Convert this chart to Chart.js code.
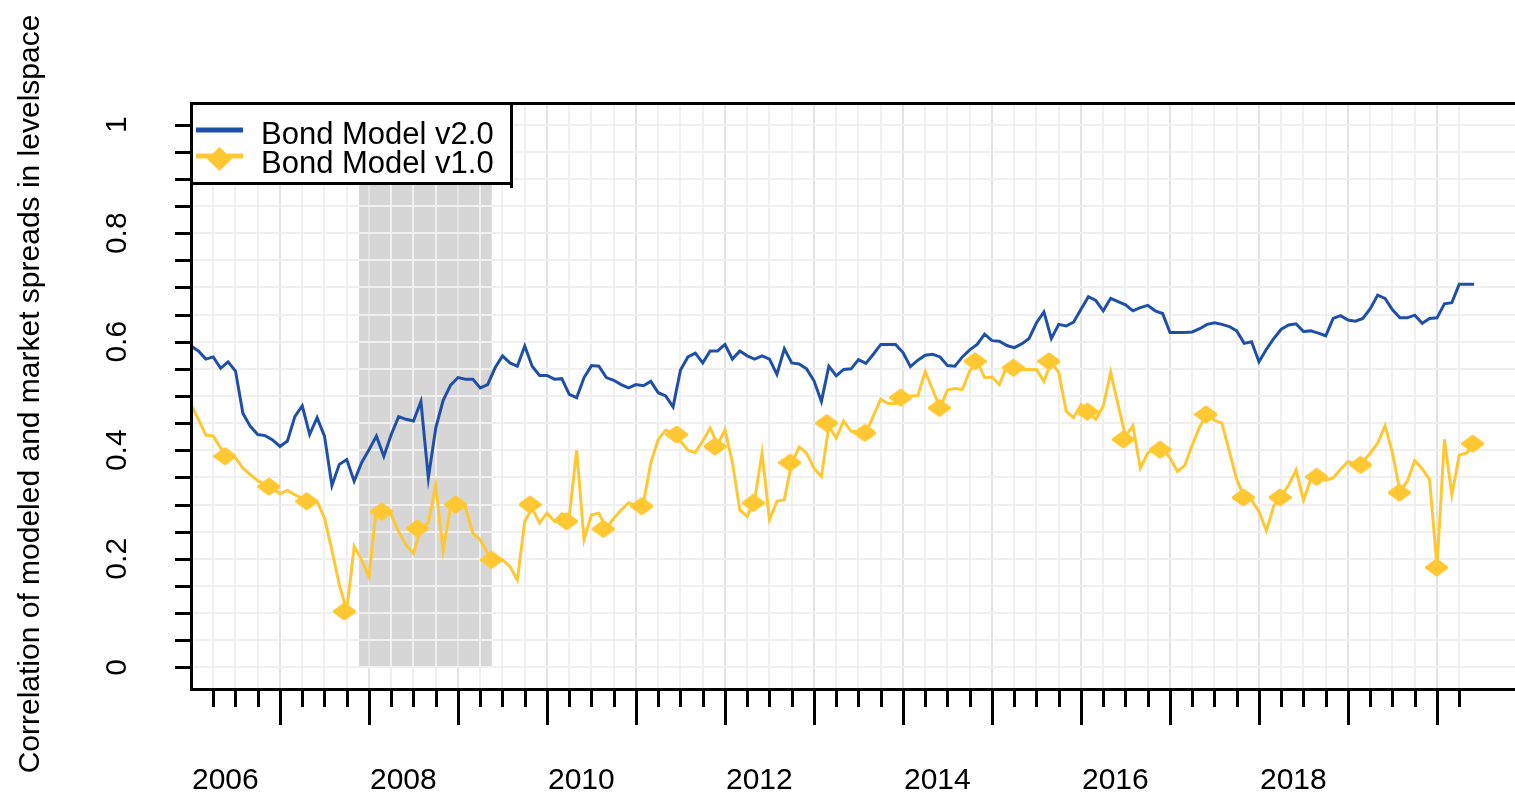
<!DOCTYPE html>
<html><head><meta charset="utf-8">
<script src="https://cdn.jsdelivr.net/npm/chart.js@4.4.1/dist/chart.umd.min.js"></script>
<style>html,body{margin:0;padding:0;background:#fff;}canvas{display:block;}</style>
</head><body>
<canvas id="c" width="1515" height="794"></canvas>
<script>
// ---------------- data ----------------
const seriesNames = ['Bond Model v2.0', 'Bond Model v1.0'];
const startYear = 2006.0;          // first monthly observation
const monthsPerYear = 12;

const v2Values = [
0.592,0.583,0.568,0.572,0.551,0.563,0.546,0.468,0.444,0.429,0.427,0.419,
0.407,0.417,0.462,0.482,0.429,0.460,0.426,0.335,0.374,0.383,0.343,0.377,
0.401,0.426,0.389,0.429,0.462,0.457,0.454,0.490,0.349,0.441,0.492,0.520,
0.534,0.531,0.531,0.515,0.521,0.552,0.574,0.561,0.555,0.592,0.555,0.538,
0.538,0.531,0.532,0.503,0.497,0.534,0.556,0.555,0.534,0.529,0.521,0.515,
0.521,0.519,0.527,0.506,0.500,0.480,0.548,0.572,0.579,0.561,0.583,0.583,
0.595,0.568,0.583,0.574,0.568,0.574,0.568,0.540,0.587,0.561,0.559,0.550,
0.528,0.490,0.555,0.537,0.549,0.550,0.567,0.560,0.577,0.595,0.595,0.595,
0.580,0.554,0.566,0.575,0.577,0.572,0.556,0.555,0.572,0.585,0.595,0.614,
0.602,0.601,0.593,0.589,0.596,0.606,0.635,0.655,0.606,0.632,0.629,0.636,
0.660,0.683,0.676,0.657,0.680,0.674,0.668,0.657,0.663,0.667,0.657,0.652,
0.617,0.617,0.617,0.618,0.624,0.632,0.635,0.632,0.628,0.620,0.597,0.600,
0.563,0.586,0.606,0.623,0.631,0.633,0.619,0.620,0.616,0.611,0.643,0.648,
0.640,0.638,0.643,0.661,0.686,0.680,0.659,0.644,0.644,0.649,0.634,0.643,
0.644,0.670,0.672,0.706,0.706,0.706
];
const v1Values = [
0.484,0.457,0.428,0.426,0.404,0.390,0.386,0.367,0.355,0.344,0.337,0.330,
0.320,0.326,0.318,0.312,0.309,0.306,0.275,0.216,0.152,0.105,0.223,0.198,
0.167,0.293,0.287,0.281,0.250,0.226,0.210,0.255,0.266,0.335,0.215,0.297,
0.300,0.295,0.247,0.235,0.210,0.198,0.198,0.186,0.161,0.269,0.293,0.266,
0.284,0.269,0.283,0.278,0.400,0.235,0.281,0.284,0.255,0.275,0.290,0.303,
0.297,0.303,0.377,0.420,0.437,0.432,0.417,0.400,0.396,0.417,0.441,0.410,
0.438,0.377,0.290,0.278,0.309,0.395,0.272,0.306,0.309,0.377,0.406,0.395,
0.367,0.352,0.444,0.423,0.454,0.435,0.434,0.432,0.463,0.494,0.486,0.486,
0.497,0.500,0.501,0.545,0.512,0.478,0.511,0.514,0.512,0.546,0.564,0.534,
0.535,0.521,0.555,0.552,0.549,0.549,0.549,0.527,0.563,0.543,0.472,0.460,
0.484,0.469,0.457,0.481,0.544,0.484,0.426,0.445,0.367,0.395,0.404,0.402,
0.386,0.361,0.372,0.410,0.443,0.468,0.455,0.450,0.398,0.346,0.314,0.308,
0.287,0.252,0.298,0.315,0.336,0.364,0.308,0.347,0.351,0.345,0.349,0.365,
0.379,0.375,0.378,0.395,0.413,0.445,0.395,0.324,0.343,0.381,0.366,0.346,
0.186,0.420,0.318,0.391,0.395,0.412
];
// v1.0 marker points (date in decimal years, value)
const markerDates = [
2006.382,2006.876,2007.300,2007.723,2008.143,2008.543,2008.974,2009.379,
2009.809,2010.221,2010.633,2011.064,2011.457,2011.888,2012.318,2012.730,
2013.143,2013.573,2013.974,2014.408,2014.809,2015.240,2015.640,2016.071,
2016.476,2016.888,2017.404,2017.824,2018.236,2018.648,2019.142,2019.577,
2019.996,2020.401
];
const markerValues = [
0.389,0.333,0.306,0.103,0.287,0.256,0.300,0.198,
0.300,0.269,0.255,0.297,0.429,0.407,0.303,0.377,
0.450,0.432,0.497,0.478,0.564,0.552,0.564,0.471,
0.420,0.401,0.466,0.313,0.313,0.351,0.373,0.322,
0.184,0.412
];
const recession = [2007.888, 2009.379];
const yTickValues = [0, 0.2, 0.4, 0.6, 0.8, 1];
const yTickLabels = ['0', '0.2', '0.4', '0.6', '0.8', '1'];
const xLabelYears = [2006, 2008, 2010, 2012, 2014, 2016, 2018];
const xTickLabels = ['2006', '2008', '2010', '2012', '2014', '2016', '2018'];
const yTitle = 'Correlation of modeled and market spreads in levelspace';

// ---------------- derived ----------------
const dates = v2Values.map((_, i) => startYear + i / monthsPerYear);
const quarterTicks = [];
for (let q = 1; q <= 57; q++) quarterTicks.push(2006 + q * 0.25);
const yGridTicks = [];
for (let k = 0; k <= 20; k++) yGridTicks.push(+(k * 0.05).toFixed(2));

const BLUE = '#1f50a9';
const YELLOW = '#ffc832';
const FONT = '"Liberation Sans", Arial, sans-serif';
const labelOffset = 0.386;

function diamond(w, h, color) {
  const c = document.createElement('canvas');
  c.width = w; c.height = h;
  const g = c.getContext('2d');
  g.fillStyle = color; g.strokeStyle = color; g.lineWidth = 4; g.lineJoin = 'round';
  g.beginPath();
  g.moveTo(w / 2, 2.5); g.lineTo(w - 2, h / 2); g.lineTo(w / 2, h - 2.5); g.lineTo(2, h / 2);
  g.closePath(); g.fill(); g.stroke();
  return c;
}
const markerImg = diamond(23, 19, YELLOW);

const isYear = v => Math.abs(v - Math.round(v)) < 1e-6;

const chrome = {
  id: 'chrome',
  beforeDraw(chart) {
    const { ctx, chartArea: a, scales: { x, y } } = chart;
    ctx.save();
    ctx.fillStyle = '#fff';
    ctx.fillRect(0, 0, chart.width, chart.height);
    const x0 = x.getPixelForValue(recession[0]);
    const x1 = x.getPixelForValue(recession[1]);
    const yb = y.getPixelForValue(0);
    ctx.fillStyle = '#d6d6d6';
    ctx.fillRect(x0, a.top, x1 - x0, yb - a.top);
    ctx.restore();
  },
  afterDraw(chart) {
    const { ctx, chartArea: a, scales: { x, y } } = chart;
    ctx.save();
    ctx.fillStyle = '#000';
    // frame
    ctx.fillRect(a.left - 1, a.top - 1, a.right - a.left + 1, 3);
    ctx.fillRect(a.left - 1, a.top - 1, 3, a.bottom - a.top + 3);
    ctx.fillRect(a.left - 1, a.bottom - 1, a.right - a.left + 1, 3);
    // x ticks
    for (const q of quarterTicks) {
      const px = Math.round(x.getPixelForValue(q));
      const len = isYear(q) ? 35 : 17;
      ctx.fillRect(px - 1, a.bottom + 1, 3, len);
    }
    // y ticks
    for (const v of yGridTicks) {
      const py = Math.round(y.getPixelForValue(v));
      ctx.fillRect(175, py - 1, a.left - 175, 3);
    }
    // x labels
    ctx.font = '30px ' + FONT;
    ctx.textAlign = 'center';
    ctx.textBaseline = 'alphabetic';
    xLabelYears.forEach((yr, i) => {
      ctx.fillText(xTickLabels[i], x.getPixelForValue(yr + labelOffset), 789);
    });
    // y labels (rotated)
    yTickValues.forEach((v, i) => {
      ctx.save();
      ctx.translate(126, y.getPixelForValue(v));
      ctx.rotate(-Math.PI / 2);
      ctx.fillText(yTickLabels[i], 0, 0);
      ctx.restore();
    });
    // y title
    ctx.save();
    ctx.translate(39, 394);
    ctx.rotate(-Math.PI / 2);
    ctx.fillText(yTitle, 0, 0);
    ctx.restore();
    // legend
    ctx.fillStyle = '#fff';
    ctx.fillRect(a.left + 2, a.top + 2, 318, 79);
    ctx.fillStyle = '#000';
    ctx.fillRect(510, a.top - 1, 3, 86);
    ctx.fillRect(a.left - 1, 182, 323, 3);
    ctx.fillStyle = BLUE;
    ctx.fillRect(196, 127.5, 47, 5);
    ctx.fillStyle = YELLOW;
    ctx.fillRect(196, 153.5, 47, 5);
    ctx.beginPath();
    ctx.moveTo(219.5, 147); ctx.lineTo(232, 159); ctx.lineTo(219.5, 171); ctx.lineTo(207, 159);
    ctx.closePath(); ctx.fill();
    ctx.fillStyle = '#000';
    ctx.font = '31px ' + FONT;
    ctx.textAlign = 'left';
    ctx.fillText(seriesNames[0], 261, 144);
    ctx.fillText(seriesNames[1], 261, 173);
    ctx.restore();
  }
};

new Chart(document.getElementById('c'), {
  type: 'line',
  data: {
    datasets: [
      {
        label: seriesNames[1] + ' markers',
        data: markerDates.map((t, i) => ({ x: t, y: markerValues[i] })),
        showLine: false,
        pointStyle: markerImg,
        pointRadius: 10,
        borderColor: YELLOW,
        backgroundColor: YELLOW
      },
      {
        label: seriesNames[1],
        data: dates.map((t, i) => ({ x: t, y: v1Values[i] })),
        borderColor: YELLOW,
        borderWidth: 3,
        pointRadius: 0,
        tension: 0
      },
      {
        label: seriesNames[0],
        data: dates.map((t, i) => ({ x: t, y: v2Values[i] })),
        borderColor: BLUE,
        borderWidth: 3,
        pointRadius: 0,
        tension: 0
      }
    ]
  },
  options: {
    responsive: false,
    animation: false,
    events: [],
    layout: { autoPadding: false, padding: { left: 191, top: 103, right: 0, bottom: 105 } },
    plugins: { legend: { display: false }, tooltip: { enabled: false } },
    scales: {
      x: {
        type: 'linear', min: 2006, max: 2006 + 1324 / 89,
        afterBuildTicks: s => { s.ticks = quarterTicks.map(v => ({ value: v })); },
        afterFit: s => { s.height = 0; },
        ticks: { display: false, autoSkip: false },
        border: { display: false },
        grid: { drawTicks: false, lineWidth: 2,
          color: c => (c.tick && isYear(c.tick.value)) ? '#e3e3e3' : '#f0f0f0' }
      },
      y: {
        type: 'linear', min: -0.04, max: 1.04,
        afterBuildTicks: s => { s.ticks = yGridTicks.map(v => ({ value: v })); },
        afterFit: s => { s.width = 0; },
        ticks: { display: false, autoSkip: false },
        border: { display: false },
        grid: { drawTicks: false, lineWidth: 2, color: '#f0f0f0' }
      }
    }
  },
  plugins: [chrome]
});
</script>
</body></html>
